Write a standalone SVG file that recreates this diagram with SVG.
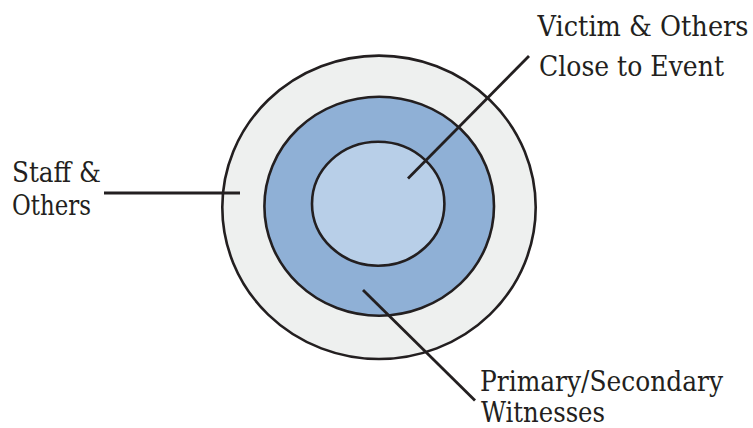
<svg xmlns="http://www.w3.org/2000/svg" width="753" height="428" viewBox="0 0 753 428">
  <style>
    .ring { stroke: #231f20; stroke-width: 2.6; }
    .leader { stroke: #231f20; stroke-width: 2.8; fill: none; stroke-linecap: butt; }
    .label { font-family: "DejaVu Serif Condensed", "DejaVu Serif", serif; font-stretch: condensed; font-size: 28.5px; fill: #231f20; }
  </style>

  <!-- concentric zones -->
  <g id="outer-zone">
    <ellipse class="ring" cx="379" cy="207.3" rx="156.7" ry="151.7" fill="#eef0ef"/>
  </g>
  <g id="middle-zone">
    <ellipse class="ring" cx="379.2" cy="206.2" rx="114.8" ry="109.5" fill="#8fb0d6"/>
  </g>
  <g id="inner-zone">
    <ellipse class="ring" cx="378.2" cy="203.7" rx="66.2" ry="62" fill="#b8cfe8"/>
  </g>

  <!-- leader lines -->
  <g id="connectors">
    <line class="leader" x1="104" y1="193" x2="240" y2="193"/>
    <line class="leader" x1="408" y1="178.5" x2="529" y2="56"/>
    <line class="leader" x1="363" y1="290" x2="475" y2="400.5"/>
  </g>

  <!-- labels -->
  <g id="label-staff">
    <text class="label" x="12" y="181.7" textLength="89" lengthAdjust="spacingAndGlyphs">Staff &amp;</text>
    <text class="label" x="12" y="215" textLength="79" lengthAdjust="spacingAndGlyphs">Others</text>
  </g>
  <g id="label-victim">
    <text class="label" x="537.5" y="35.7" textLength="211" lengthAdjust="spacingAndGlyphs">Victim &amp; Others</text>
    <text class="label" x="539" y="75.5" textLength="185" lengthAdjust="spacingAndGlyphs">Close to Event</text>
  </g>
  <g id="label-witnesses">
    <text class="label" x="480" y="390.5" textLength="243" lengthAdjust="spacingAndGlyphs">Primary/Secondary</text>
    <text class="label" x="481" y="422" textLength="124" lengthAdjust="spacingAndGlyphs">Witnesses</text>
  </g>
</svg>
